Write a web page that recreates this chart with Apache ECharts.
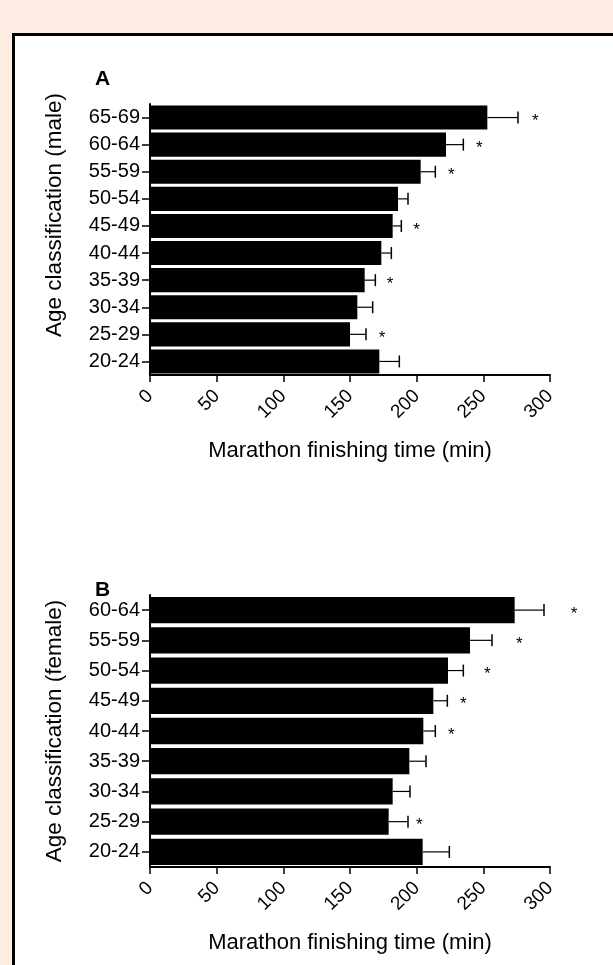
<!DOCTYPE html>
<html>
<head>
<meta charset="utf-8">
<script src="https://cdn.jsdelivr.net/npm/echarts@6/dist/echarts.min.js"></script>
<style>
  html, body { margin: 0; padding: 0; background: #fdece2; width: 613px; height: 965px; overflow: hidden; }
  #frame { position: absolute; left: 12px; top: 33px; width: 700px; height: 1000px; border: 3px solid #000; background: #fff; }
  #chart { position: absolute; left: 0; top: 0; width: 613px; height: 965px; }
</style>
</head>
<body>
<div id="frame"></div>
<div id="chart"></div>
<script>
// Panel A (male), listed top to bottom
const maleCats = ['65-69', '60-64', '55-59', '50-54', '45-49', '40-44', '35-39', '30-34', '25-29', '20-24'];
const maleMean = [253, 222, 203, 186, 182, 173.5, 161, 155.5, 150, 172];
const maleErr = [23, 13, 11, 7.5, 6.5, 7.5, 8, 11.5, 12, 15];
const maleStar = [289, 247, 226, null, 200, null, 180, null, 174, null];

// Panel B (female), listed top to bottom
const femaleCats = ['60-64', '55-59', '50-54', '45-49', '40-44', '35-39', '30-34', '25-29', '20-24'];
const femaleMean = [273.5, 240, 223.5, 212.5, 205, 194.5, 182, 179, 204.5];
const femaleErr = [22, 16.5, 11.5, 10.5, 9, 12.5, 13, 14.5, 20];
const femaleStar = [318, 277, 253, 235, 226, null, null, 202, null];

const xTicks = [0, 50, 100, 150, 200, 250, 300];
const xTitle = 'Marathon finishing time (min)';
const yTitleA = 'Age classification (male)';
const yTitleB = 'Age classification (female)';

const FONT = 'Liberation Sans, Arial, sans-serif';

function xAxisDef(gi) {
  return {
    gridIndex: gi, type: 'value', min: xTicks[0], max: xTicks[xTicks.length - 1], interval: 50,
    name: xTitle, nameLocation: 'middle', nameGap: 65,
    nameTextStyle: { fontFamily: FONT, fontSize: 22, color: '#000' },
    axisLine: { show: true, lineStyle: { color: '#000', width: 2 } },
    axisTick: { show: true, length: 7, lineStyle: { color: '#000', width: 1.5 } },
    axisLabel: { rotate: 45, fontFamily: FONT, fontSize: 19, color: '#000', margin: 18 },
    splitLine: { show: false }
  };
}
function yAxisDef(gi, cats) {
  return {
    gridIndex: gi, type: 'category', data: cats, inverse: true,
    axisLine: { show: true, lineStyle: { color: '#000', width: 2 } },
    axisTick: { show: true, length: 8, alignWithLabel: true, lineStyle: { color: '#000', width: 1.5 } },
    axisLabel: { fontFamily: FONT, fontSize: 20, color: '#000', margin: 10 },
    splitLine: { show: false }
  };
}
function errSeries(gi, mean, err) {
  return {
    type: 'custom', xAxisIndex: gi, yAxisIndex: gi, z: 5,
    data: mean.map((m, i) => [m, i, m + err[i]]),
    renderItem: function (params, api) {
      const p0 = api.coord([api.value(0), api.value(1)]);
      const p1 = api.coord([api.value(2), api.value(1)]);
      return {
        type: 'group',
        children: [
          { type: 'line', shape: { x1: p0[0], y1: p0[1], x2: p1[0], y2: p1[1] }, style: { stroke: '#000', lineWidth: 1.2 } },
          { type: 'line', shape: { x1: p1[0], y1: p1[1] - 6, x2: p1[0], y2: p1[1] + 6 }, style: { stroke: '#000', lineWidth: 1.5 } }
        ]
      };
    }
  };
}
function starSeries(gi, stars) {
  return {
    type: 'custom', xAxisIndex: gi, yAxisIndex: gi, z: 6, clip: false,
    data: stars.map((s, i) => s === null ? null : [s, i]).filter(d => d),
    renderItem: function (params, api) {
      const p = api.coord([api.value(0), api.value(1)]);
      return {
        type: 'text',
        style: { x: p[0], y: p[1] + 4, text: '*', fill: '#000', fontFamily: FONT, fontSize: 17, align: 'center', verticalAlign: 'middle' }
      };
    }
  };
}

const chart = echarts.init(document.getElementById('chart'), null, { renderer: 'canvas' });
chart.setOption({
  backgroundColor: 'transparent',
  animation: false,
  graphic: [
    { type: 'text', left: 95, top: 69, style: { text: 'A', fontFamily: FONT, fontWeight: 'bold', fontSize: 21, fill: '#000' } },
    { type: 'text', left: 95, top: 580, style: { text: 'B', fontFamily: FONT, fontWeight: 'bold', fontSize: 21, fill: '#000' } },
    { type: 'text', x: 55, y: 215, rotation: Math.PI / 2, style: { text: yTitleA, fontFamily: FONT, fontSize: 22.5, fill: '#000', align: 'center', verticalAlign: 'middle' } },
    { type: 'text', x: 55, y: 731, rotation: Math.PI / 2, style: { text: yTitleB, fontFamily: FONT, fontSize: 22.5, fill: '#000', align: 'center', verticalAlign: 'middle' } }
  ],
  grid: [
    { left: 150, width: 400, top: 104, height: 271 },
    { left: 150, width: 400, top: 595, height: 272 }
  ],
  xAxis: [xAxisDef(0), xAxisDef(1)],
  yAxis: [yAxisDef(0, maleCats), yAxisDef(1, femaleCats)],
  series: [
    { type: 'bar', xAxisIndex: 0, yAxisIndex: 0, data: maleMean, barCategoryGap: '11%', itemStyle: { color: '#000' } },
    errSeries(0, maleMean, maleErr),
    starSeries(0, maleStar),
    { type: 'bar', xAxisIndex: 1, yAxisIndex: 1, data: femaleMean, barCategoryGap: '13%', itemStyle: { color: '#000' } },
    errSeries(1, femaleMean, femaleErr),
    starSeries(1, femaleStar)
  ]
});
</script>
</body>
</html>
